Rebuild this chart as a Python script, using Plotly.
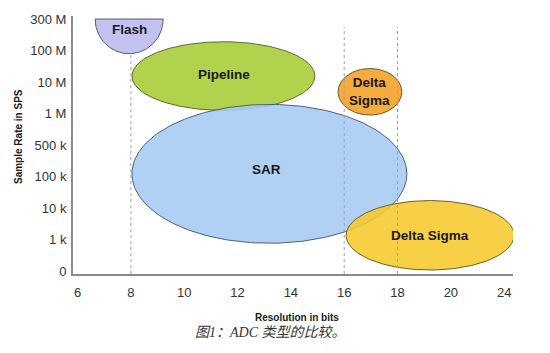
import numpy as np
import plotly.graph_objects as go

# ---- data ----
x_tickvals = [6, 8, 10, 12, 14, 16, 18, 20, 22]
x_ticktext = ["6", "8", "10", "12", "14", "16", "18", "20", "24"]
y_tickvals = [0, 1, 2, 3, 4, 5, 6, 7, 8]
y_ticktext = ["0", "1 k", "10 k", "100 k", "500 k", "1 M", "10 M", "100 M", "300 M"]

regions = ["Flash", "Pipeline", "SAR", "Delta<br>Sigma", "Delta Sigma"]
res_min = [6.66, 8.04, 8.04, 15.77, 16.07]
res_max = [9.21, 14.90, 18.35, 18.16, 22.37]
rate_min = [6.90, 5.10, 0.88, 4.95, 0.03]
rate_max = [8.00, 7.28, 5.29, 6.43, 2.235]
label_x = [7.93, 11.5, 13.1, 16.96, 19.22]
label_y = [7.68, 6.24, 3.22, 5.69, 1.13]

guide_x = [8, 16, 18]
guide_top = [6.90, 7.75, 7.75]
guide_bottom = [-0.1, -0.1, -0.1]

# ---- styles ----
fills = ["#c3c3f2", "#b1d24c", "rgba(166,203,243,0.88)", "#f5ab3e", "rgba(246,201,44,0.88)"]
edges = ["#5a5a6a", "#5d6b2c", "#4e5f7d", "#6e5527", "#6e5e25"]
kinds = ["half", "full", "full", "full", "full"]

fig = go.Figure()

for i, name in enumerate(regions):
    cx = (res_min[i] + res_max[i]) / 2
    rx = (res_max[i] - res_min[i]) / 2
    if kinds[i] == "half":
        cy = rate_max[i]
        ry = rate_max[i] - rate_min[i]
        t = np.linspace(np.pi, 2 * np.pi, 120)
        xs = list(cx + rx * np.cos(t)) + [cx - rx]
        ys = list(cy + ry * np.sin(t)) + [cy]
    else:
        cy = (rate_min[i] + rate_max[i]) / 2
        ry = (rate_max[i] - rate_min[i]) / 2
        t = np.linspace(0, 2 * np.pi, 240)
        xs = cx + rx * np.cos(t)
        ys = cy + ry * np.sin(t)
    fig.add_trace(go.Scatter(x=xs, y=ys, mode="lines", fill="toself",
                             fillcolor=fills[i], line=dict(color=edges[i], width=1),
                             hoverinfo="skip", showlegend=False))
    fig.add_annotation(x=label_x[i], y=label_y[i], text="<b>%s</b>" % name,
                       showarrow=False,
                       font=dict(family="Liberation Sans, Arial", size=13.5, color="#1a1a1a"))

for gx, gt, gb in zip(guide_x, guide_top, guide_bottom):
    fig.add_trace(go.Scatter(x=[gx, gx], y=[gb, gt], mode="lines",
                             line=dict(color="#9aa0ae", width=1, dash="dot"),
                             hoverinfo="skip", showlegend=False))

tickfont = dict(family="Liberation Sans, Arial", size=13, color="#333333")

fig.update_xaxes(range=[5.83, 22.33], tickvals=x_tickvals, ticktext=x_ticktext,
                 showgrid=False, zeroline=False, showline=True, linecolor="#8a8a8a",
                 linewidth=2, ticks="", tickfont=tickfont, ticklabelstandoff=5)
fig.update_yaxes(range=[-0.097, 8.097], tickvals=y_tickvals, ticktext=y_ticktext,
                 showgrid=False, zeroline=False, showline=True, linecolor="#8a8a8a",
                 linewidth=2, ticks="", tickfont=tickfont, ticklabelstandoff=2)

fig.add_annotation(xref="paper", yref="paper", x=-0.125, y=0.531,
                   xanchor="center", yanchor="middle",
                   text="<b>Sample Rate in SPS</b>", textangle=-90, showarrow=False,
                   font=dict(family="Liberation Sans, Arial", size=10, color="#1a1a1a"))
fig.add_annotation(xref="paper", yref="paper", x=0.509, y=-0.169,
                   xanchor="center", yanchor="middle",
                   text="<b>Resolution in bits</b>", showarrow=False,
                   font=dict(family="Liberation Sans, Arial", size=10, color="#1a1a1a"))
fig.add_annotation(xref="paper", yref="paper", x=0.448, y=-0.226,
                   xanchor="center", yanchor="middle",
                   text="<i>图1：ADC 类型的比较。</i>", showarrow=False,
                   font=dict(family="Liberation Serif, Noto Sans CJK SC", size=14, color="#333333"))

fig.update_layout(width=550, height=353, margin=dict(l=73, r=37, t=14, b=79),
                  plot_bgcolor="white", paper_bgcolor="white")

fig.write_html("out.html")
